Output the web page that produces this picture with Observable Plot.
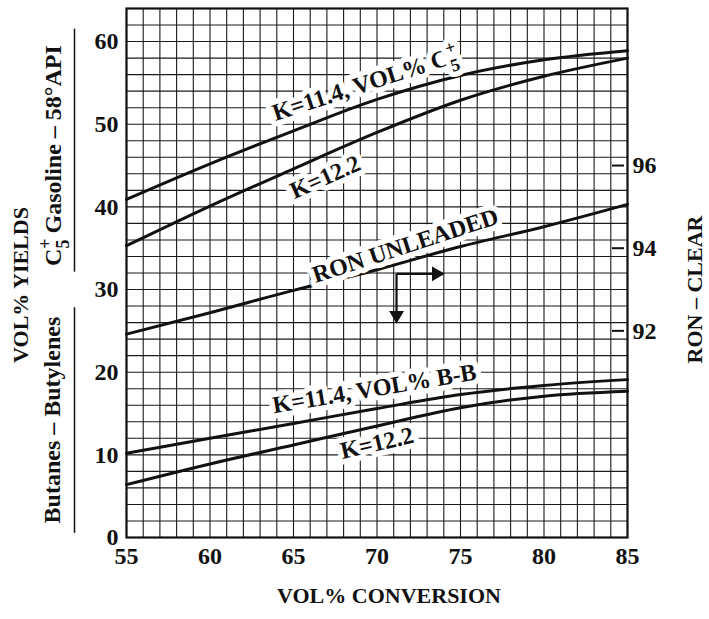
<!DOCTYPE html>
<html><head><meta charset="utf-8">
<script src="https://cdn.jsdelivr.net/npm/d3@7"></script>
<script src="https://cdn.jsdelivr.net/npm/@observablehq/plot@0.6"></script>
<style>body{margin:0;background:#fff}#chart{width:709px;height:619px}</style>
</head><body><div id="chart"></div>
<script>
// ---- data ----
const conversion = [55, 60, 65, 70, 75, 80, 85];
const c5PlusK114 = [40.9, 45.2, 49.2, 53.0, 55.9, 57.8, 58.9];
const c5PlusK122 = [35.3, 40.1, 44.6, 49.0, 52.9, 55.8, 58.0];
const ronUnleaded = [91.92, 92.44, 92.98, 93.48, 94.04, 94.52, 95.06];
const bbK114 = [10.2, 12.0, 13.8, 15.6, 17.3, 18.4, 19.1];
const bbK122 = [6.4, 8.9, 11.2, 13.5, 15.7, 17.1, 17.7];

const xTicks = [55, 60, 65, 70, 75, 80, 85];
const yTicks = [0, 10, 20, 30, 40, 50, 60];
const ronTicks = [92, 94, 96];
const xGrid = d3.range(55, 86, 1);
const yGrid = d3.range(0, 65, 2);

// RON (right axis) to yield-scale mapping
const ronToYield = r => 25 + 5 * (r - 92);

const labelText = ["K=11.4, VOL% C5+", "K=12.2", "RON UNLEADED", "K=11.4, VOL% B-B", "K=12.2"];
const labelX = [69.3, 66.9, 71.7, 69.85, 70.0];
const labelY = [54.9, 43.6, 35.3, 18.0, 11.4];
const labelAngle = [-18, -24, -18, -9.5, -13];

const arrowCorner = {x: 71.17, y: 31.9};
const arrowRightTip = 73.55;
const arrowDownTip = 26.9;

// ---- build tables ----
const seriesDefs = [
  ["C5+ K=11.4", c5PlusK114],
  ["C5+ K=12.2", c5PlusK122],
  ["RON unleaded", ronUnleaded.map(ronToYield)],
  ["B-B K=11.4", bbK114],
  ["B-B K=12.2", bbK122]
];
const rows = seriesDefs.flatMap(([name, vals]) => conversion.map((x, i) => ({name, x, y: vals[i]})));
const labels = labelText.map((t, i) => ({text: t, x: labelX[i], y: labelY[i], angle: labelAngle[i]}));
const arrowLinks = [
  {x1: arrowCorner.x, y1: arrowCorner.y, x2: arrowRightTip, y2: arrowCorner.y},
  {x1: arrowCorner.x, y1: arrowCorner.y, x2: arrowCorner.x, y2: arrowDownTip}
];
const arrowHeads = [
  {x: arrowRightTip, y: arrowCorner.y, r: 90},
  {x: arrowCorner.x, y: arrowDownTip, r: 180}
];

const font = "Liberation Serif";
const chart = Plot.plot({
  width: 709,
  height: 619,
  marginLeft: 126,
  marginRight: 82,
  marginTop: 8,
  marginBottom: 82,
  style: {fontFamily: font, fontSize: "22px", fontWeight: "bold", background: "white", color: "#111"},
  x: {domain: [55, 85]},
  y: {domain: [0, 64]},
  marks: [
    Plot.ruleX(xGrid, {stroke: "#1a1a1a", strokeWidth: 1.1}),
    Plot.ruleY(yGrid, {stroke: "#1a1a1a", strokeWidth: 1.1}),
    Plot.frame({stroke: "#111", strokeWidth: 2.2}),
    Plot.line(rows, {x: "x", y: "y", z: "name", curve: "monotone-x", stroke: "#111", strokeWidth: 3}),
    Plot.text(labels, {x: "x", y: "y", text: "text", rotate: "angle", fontSize: 24, fill: "#111",
      stroke: "white", strokeWidth: 11, strokeLinejoin: "round", paintOrder: "stroke"}),
    Plot.link(arrowLinks, {x1: "x1", y1: "y1", x2: "x2", y2: "y2", stroke: "#111", strokeWidth: 2.2}),
    Plot.dot(arrowHeads, {x: "x", y: "y", rotate: "r", symbol: "triangle", r: 5.5, fill: "#111", stroke: "none"}),
    Plot.axisX(xTicks, {tickSize: 0, tickPadding: 9, label: null, fontSize: 24}),
    Plot.axisY(yTicks, {anchor: "left", tickSize: 0, tickPadding: 8, label: null, fontSize: 24}),
    Plot.ruleY(ronTicks.map(ronToYield), {insetLeft: 486, insetRight: 3, stroke: "#111", strokeWidth: 2}),
    Plot.axisY(ronTicks.map(ronToYield), {anchor: "right", tickSize: 0, tickPadding: 5, label: null, fontSize: 24,
      tickFormat: v => String(Math.round(92 + (v - 25) / 5))}),
    // axis titles
    Plot.text(["VOL% CONVERSION"], {frameAnchor: "bottom", textAnchor: "middle", dy: 65, dx: 12, fontSize: 22}),
    Plot.text(["VOL% YIELDS"], {frameAnchor: "left", textAnchor: "middle", dx: -106, dy: 12, rotate: -90, fontSize: 22}),
    Plot.text(["C5+ Gasoline – 58°API"], {y: [46.2], frameAnchor: "left", textAnchor: "middle", dx: -73, rotate: -90, fontSize: 24}),
    Plot.text(["Butanes – Butylenes"], {y: [14.2], frameAnchor: "left", textAnchor: "middle", dx: -74, rotate: -90, fontSize: 24}),
    Plot.ruleX([55], {y1: 61.5, y2: 32.1, dx: -52, stroke: "#111", strokeWidth: 1.5}),
    Plot.ruleX([55], {y1: 27.8, y2: 0.5, dx: -52, stroke: "#111", strokeWidth: 1.5}),
    Plot.text(["RON – CLEAR"], {y: [30], frameAnchor: "right", textAnchor: "middle", dx: 67, rotate: -90, fontSize: 22})
  ]
});

// C5+ : stacked superscript "+" and subscript "5"
d3.select(chart).selectAll("text").each(function () {
  if (this.querySelector("tspan")) return;
  const t = this.textContent;
  const i = t.indexOf("C5+");
  if (i < 0) return;
  const sel = d3.select(this);
  sel.text(null);
  sel.append("tspan").text(t.slice(0, i + 1));
  sel.append("tspan").attr("font-size", "0.75em").attr("dy", "-0.55em").text("+");
  sel.append("tspan").attr("font-size", "0.75em").attr("dx", "-0.56em").attr("dy", "1.0em").text("5");
  sel.append("tspan").attr("dy", "-0.34em").text(t.slice(i + 3));
});

document.getElementById("chart").appendChild(chart);
</script>
</body></html>
